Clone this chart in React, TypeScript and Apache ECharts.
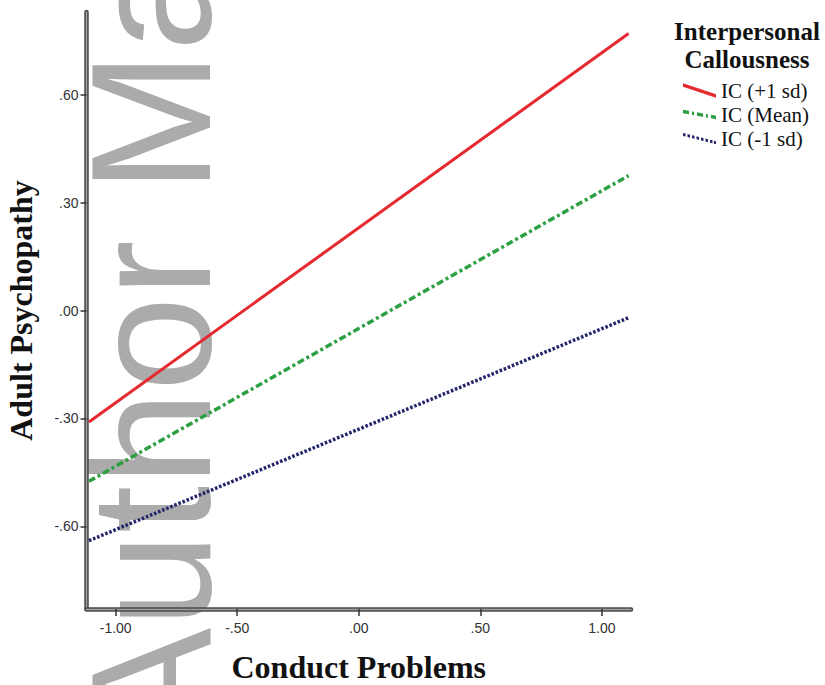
import React, { useEffect, useRef } from "react";
import * as echarts from "echarts";

// ---- data ----
const xValues = [-1.11, 1.11];
const icPlus1 = [-0.31, 0.77];
const icMean = [-0.475, 0.375];
const icMinus1 = [-0.64, -0.02];
const seriesNames = ["IC (+1 sd)", "IC (Mean)", "IC (-1 sd)"];
const xTickValues = [-1, -0.5, 0, 0.5, 1];
const yTickValues = [-0.6, -0.3, 0, 0.3, 0.6];
const legendTitle = "Interpersonal\nCallousness";
const xAxisTitle = "Conduct Problems";
const yAxisTitle = "Adult Psychopathy";
const watermarkText = "Author Manuscript";

const SERIF = '"Liberation Serif", "Times New Roman", serif';
const SANS = '"Liberation Sans", Arial, sans-serif';

function fmt(v: number): string {
  const s = Math.abs(v).toFixed(2);
  const t = s.startsWith("0") ? s.slice(1) : s;
  return (v < 0 ? "-" : "") + t;
}

function slantPath(segs: number[][], slope: number, thick: number): string {
  return (
    "path://" +
    segs
      .map(([a, b]) => {
        const ya = (a * slope).toFixed(2);
        const yb = (b * slope).toFixed(2);
        const ya2 = (a * slope + thick).toFixed(2);
        const yb2 = (b * slope + thick).toFixed(2);
        return `M${a},${ya} L${b},${yb} L${b},${yb2} L${a},${ya2} Z`;
      })
      .join(" ")
  );
}

const legendIcons = [
  slantPath([[0, 33]], 0.33, 3.5),
  slantPath([[0, 6], [9, 11], [14, 20], [23, 25], [28, 33]], 0.18, 3.5),
  slantPath([[0, 2.5], [4.5, 7], [9, 11.5], [13.5, 16], [18, 20.5], [22.5, 25], [27, 29.5], [31, 33]], 0.25, 3),
];

const colors = ["#e6282f", "#2ca043", "#25256e"];
const dashes: (number[] | "solid")[] = ["solid", [7, 3, 3, 3], [2.6, 1.8]];
const widths = [3, 3.5, 3.5];
const seriesValues = [icPlus1, icMean, icMinus1];

export default function App() {
  const ref = useRef<HTMLDivElement>(null);
  useEffect(() => {
    if (!ref.current) return;
    const chart = echarts.init(ref.current, null, { renderer: "svg" });
    const axisDark = { show: true, onZero: false, lineStyle: { color: "#4a4a4a", width: 4.5 } };
    const axisLight = { show: true, onZero: false, lineStyle: { color: "#a0a0a0", width: 1.4 } };
    const option: any = {
      animation: false,
      backgroundColor: "#ffffff",
      textStyle: { fontFamily: SANS },
      title: {
        text: legendTitle,
        left: 747,
        top: 17,
        padding: 0,
        textAlign: "center",
        textStyle: {
          fontFamily: SERIF,
          fontWeight: "bold",
          fontSize: 25,
          lineHeight: 28,
          color: "#111111",
        },
      },
      legend: {
        orient: "vertical",
        left: 683,
        top: 80,
        padding: 0,
        itemWidth: 33,
        itemHeight: 15,
        itemGap: 3,
        symbolKeepAspect: true,
        itemStyle: { borderWidth: 0 },
        textStyle: { fontFamily: SERIF, fontSize: 21, lineHeight: 21, color: "#111111" },
        data: seriesNames.map((n, i) => ({ name: n, icon: legendIcons[i] })),
      },
      grid: { left: 86.5, right: 194, top: 12, bottom: 76, outerBoundsMode: "none", containLabel: false },
      graphic: [
        {
          type: "text",
          z: -10,
          x: 151,
          y: 741,
          rotation: Math.PI / 2,
          silent: true,
          style: {
            text: watermarkText,
            fontSize: 170,
            fontFamily: SANS,
            fill: "#ababab",
            align: "left",
            verticalAlign: "middle",
          },
        },
      ],
      xAxis: [
        {
          type: "value",
          position: "bottom",
          min: -1.12,
          max: 1.12,
          name: xAxisTitle,
          nameLocation: "middle",
          nameGap: 42,
          nameMoveOverlap: false,
          nameTextStyle: { fontFamily: SERIF, fontWeight: "bold", fontSize: 32, color: "#111111" },
          axisLine: axisDark,
          axisTick: { show: true, length: 7, customValues: xTickValues, lineStyle: { color: "#333333", width: 1.5 } },
          axisLabel: {
            customValues: xTickValues,
            formatter: fmt,
            fontSize: 14,
            margin: 12,
            color: "#333333",
            fontFamily: SANS,
          },
          splitLine: { show: false },
        },
        {
          type: "value",
          position: "bottom",
          min: -1.12,
          max: 1.12,
          axisLine: axisLight,
          axisTick: { show: false },
          axisLabel: { show: false },
          splitLine: { show: false },
        },
      ],
      yAxis: [
        {
          type: "value",
          position: "left",
          min: -0.83,
          max: 0.83,
          name: yAxisTitle,
          nameLocation: "middle",
          nameRotate: 90,
          nameGap: 50,
          nameMoveOverlap: false,
          nameTextStyle: { fontFamily: SERIF, fontWeight: "bold", fontSize: 32, color: "#111111" },
          axisLine: axisDark,
          axisTick: { show: true, length: 6, customValues: yTickValues, lineStyle: { color: "#333333", width: 1.5 } },
          axisLabel: {
            customValues: yTickValues,
            formatter: fmt,
            fontSize: 14,
            margin: 8,
            color: "#333333",
            fontFamily: SANS,
          },
          splitLine: { show: false },
        },
        {
          type: "value",
          position: "left",
          min: -0.83,
          max: 0.83,
          axisLine: axisLight,
          axisTick: { show: false },
          axisLabel: { show: false },
          splitLine: { show: false },
        },
      ],
      series: seriesNames.map((name, i) => ({
        name,
        type: "line",
        xAxisIndex: 0,
        yAxisIndex: 0,
        symbol: "none",
        color: colors[i],
        lineStyle: { color: colors[i], width: widths[i], type: dashes[i], cap: "butt" },
        data: xValues.map((x, j) => [x, seriesValues[i][j]]),
        z: 3,
      })),
    };
    chart.setOption(option);
    return () => chart.dispose();
  }, []);
  return (
    <div
      ref={ref}
      style={{ position: "absolute", left: 0, top: 0, width: 825, height: 685 }}
    />
  );
}
